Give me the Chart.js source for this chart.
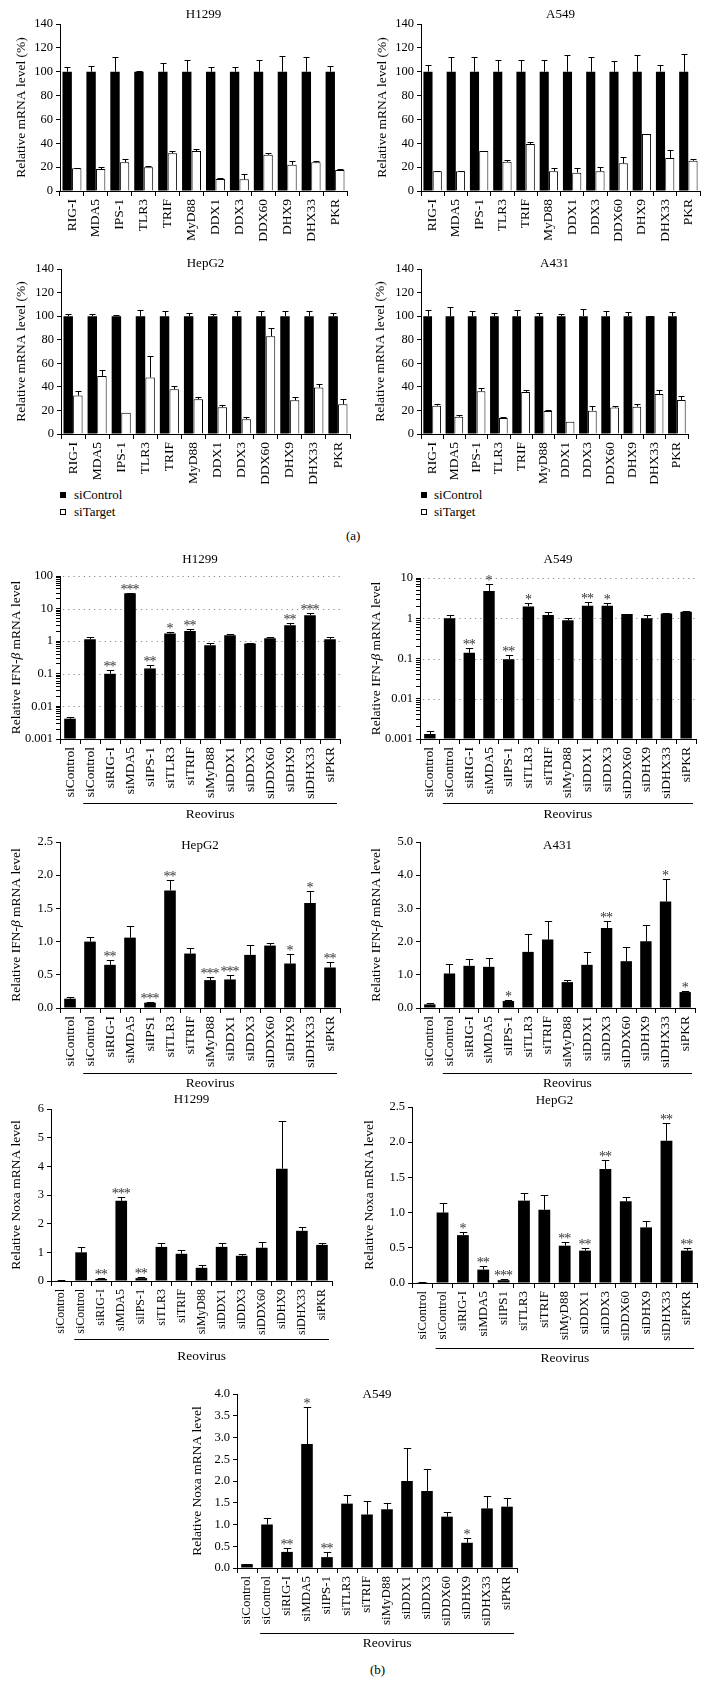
<!DOCTYPE html>
<html>
<head>
<meta charset="utf-8">
<script src="https://cdn.jsdelivr.net/npm/chart.js@4.4.1/dist/chart.umd.min.js"></script>
<style>
body{margin:0;background:#fff;width:706px;height:1684px;position:relative;overflow:hidden;font-family:"Liberation Serif","Times New Roman",serif;}
canvas{position:absolute;}
.txt{position:absolute;font-size:13px;line-height:16px;color:#000;white-space:nowrap;}
.sq{position:absolute;width:6px;height:6px;border:1px solid #000;box-sizing:border-box;}
</style>
</head>
<body>
<div class="sq" style="left:60px;top:492px;background:#000"></div><div class="txt" style="left:74px;top:487px">siControl</div>
<div class="sq" style="left:60px;top:509px;background:#fff"></div><div class="txt" style="left:74px;top:504px">siTarget</div>
<div class="sq" style="left:421px;top:492px;background:#000"></div><div class="txt" style="left:434px;top:487px">siControl</div>
<div class="sq" style="left:421px;top:509px;background:#fff"></div><div class="txt" style="left:434px;top:504px">siTarget</div>
<div class="txt" style="left:346px;top:528px">(a)</div>
<div class="txt" style="left:370px;top:1662px">(b)</div>
<script>
// ---- data (a): knockdown efficiency, % of siControl
const aLabels = ["RIG-I","MDA5","IPS-1","TLR3","TRIF","MyD88","DDX1","DDX3","DDX60","DHX9","DHX33","PKR"];
const ctrl100 = [100,100,100,100,100,100,100,100,100,100,100,100];

const h1299aCtrlErr = [4,5,12,1,7,10,4,4,10,13,12,5];
const h1299aTgt = [19,18.4,24,20,31.6,33.5,10,9.8,30.4,22,24,17.6];
const h1299aTgtErr = [0.5,1.6,3,1,2.2,1.5,0.5,4.2,1.6,3.4,1.4,0.8];

const a549aCtrlErr = [6,12,12,10,10,10,14,12.5,9,14,6,15];
const a549aTgt = [16.5,16.5,33.5,24.6,39.4,16.5,15.4,16.5,23.2,47.8,27.6,25.4];
const a549aTgtErr = [0.3,0.5,0.3,1.4,1.4,2.5,3.6,3.3,5.6,0.3,6.8,1.6];

const hepg2aCtrlErr = [2,1.7,0.6,5.4,4.6,3,2,4.6,4,4,4,3];
const hepg2aTgt = [32.6,49.3,18,47.9,38,29.5,22.7,12.5,83,28.6,39.4,25.2];
const hepg2aTgtErr = [4.2,4.7,0,18.4,3,1.5,2,2.2,7,3.1,3.4,4.6];

const a431aCtrlErr = [5.4,7.7,4,2.3,5.4,2.3,2,6.3,4.3,3.7,0.5,3.1];
const a431aTgt = [24,14.7,36.3,13.6,35.7,19.5,10.5,19.8,22.4,23.2,34,28.9];
const a431aTgtErr = [1.2,1.3,3.1,1.1,2,1.2,0,4.2,1.4,2.6,3.4,3.4];

// ---- data (b)
const bLabels = ["siControl","siControl","siRIG-I","siMDA5","siIPS-1","siTLR3","siTRIF","siMyD88","siDDX1","siDDX3","siDDX60","siDHX9","siDHX33","siPKR"];
const bLabelsIPS1 = ["siControl","siControl","siRIG-I","siMDA5","siIPS1","siTLR3","siTRIF","siMyD88","siDDX1","siDDX3","siDDX60","siDHX9","siDHX33","siPKR"];

const h1299Ifn = [0.0042,1.15,0.1,29.5,0.146,1.72,2.07,0.75,1.52,0.85,1.23,3.1,6.3,1.15];
const h1299IfnErr = [0.0006,0.2,0.03,1.5,0.044,0.26,0.26,0.16,0.11,0.03,0.07,0.45,1.1,0.15];
const h1299IfnSig = ["","","**","***","**","*","**","","","","","**","***",""];

const a549Ifn = [0.00133,1.0,0.138,4.77,0.096,1.97,1.2,0.89,2.04,2.04,1.27,1.0,1.32,1.45];
const a549IfnErr = [0.00022,0.2,0.042,2.23,0.029,0.37,0.25,0.11,0.52,0.36,0.03,0.22,0.05,0.1];
const a549IfnSig = ["","","**","*","**","*","","","**","*","","","",""];

const hepg2Ifn = [0.14,1.0,0.65,1.06,0.08,1.77,0.82,0.42,0.43,0.8,0.94,0.67,1.58,0.61];
const hepg2IfnErr = [0.02,0.07,0.08,0.18,0.01,0.16,0.08,0.05,0.06,0.15,0.04,0.14,0.18,0.09];
const hepg2IfnSig = ["","","**","","***","**","","***","***","","","*","*","**"];

const a431Ifn = [0.11,1.04,1.27,1.24,0.21,1.69,2.06,0.78,1.3,2.41,1.41,2.01,3.21,0.48];
const a431IfnErr = [0.05,0.3,0.22,0.28,0.02,0.53,0.55,0.05,0.4,0.21,0.43,0.5,0.69,0.03];
const a431IfnSig = ["","","","","*","","","","","**","","","*","*"];

const h1299Noxa = [0.02,1.0,0.07,2.8,0.1,1.19,0.95,0.46,1.19,0.88,1.16,3.92,1.75,1.26];
const h1299NoxaErr = [0.01,0.2,0.03,0.12,0.04,0.14,0.12,0.1,0.14,0.07,0.21,1.65,0.15,0.07];
const h1299NoxaSig = ["","","**","***","**","","","","","","","","",""];

const hepg2Noxa = [0.01,1.0,0.68,0.19,0.04,1.17,1.04,0.53,0.46,1.62,1.16,0.79,2.02,0.46];
const hepg2NoxaErr = [0.005,0.13,0.04,0.05,0.01,0.11,0.21,0.05,0.04,0.13,0.06,0.09,0.25,0.04];
const hepg2NoxaSig = ["","","*","**","***","","","**","**","**","","","**","**"];

const a549Noxa = [0.09,1.0,0.37,2.85,0.25,1.48,1.23,1.35,2.0,1.77,1.18,0.58,1.37,1.41];
const a549NoxaErr = [0.01,0.16,0.08,0.85,0.12,0.2,0.32,0.15,0.75,0.5,0.11,0.11,0.29,0.19];
const a549NoxaSig = ["","","**","*","**","","","","","","","*","",""];

Chart.defaults.font.family = '"Liberation Serif","Times New Roman",serif';
Chart.defaults.color = "#000";

const FONT = '"Liberation Serif","Times New Roman",serif';
const mrnaLab = [["Relative mRNA level (%)",0]];
const ifnLab = [["Relative IFN-",0],["\u03b2",1],[" mRNA level",0]];
const noxaLab = [["Relative Noxa mRNA level",0]];

const info = {};
const EXTRA = 26; // room under the tick labels so they are not clipped

function isDecade(v){ const l = Math.log10(v); return Math.abs(l - Math.round(l)) < 1e-6; }
function logTicks(min, max){
  const out = [];
  for (let e = Math.round(Math.log10(min)); e < Math.round(Math.log10(max)); e++) {
    for (let k = 1; k <= 9; k++) out.push(Number((k * Math.pow(10, e)).toPrecision(3)));
  }
  out.push(max);
  return out;
}

const decor = {
  id: "decor",
  beforeDatasetsDraw(chart){
    const p = info[chart.canvas.id];
    if (p.kind !== "log") return;
    const ctx = chart.ctx, a = chart.chartArea, y = chart.scales.y;
    ctx.save();
    ctx.strokeStyle = "#8a8a8a"; ctx.lineWidth = 1; ctx.setLineDash([1.2, 4]);
    logTicks(p.min, p.max).filter(isDecade).forEach(function(v){
      if (v <= p.min) return;
      const py = Math.round(y.getPixelForValue(v)) + 0.5;
      ctx.beginPath(); ctx.moveTo(a.left + 3, py); ctx.lineTo(a.right, py); ctx.stroke();
    });
    ctx.restore();
  },
  afterDatasetsDraw(chart){
    const p = info[chart.canvas.id];
    const ctx = chart.ctx, y = chart.scales.y;
    ctx.save();
    ctx.strokeStyle = "#000"; ctx.lineWidth = 1;
    p.sets.forEach(function(s, di){
      const meta = chart.getDatasetMeta(di);
      meta.data.forEach(function(bar, i){
        const e = s.err[i];
        if (!e) return;
        const top = Math.round(y.getPixelForValue(s.vals[i] + e)) + 0.5;
        const x = Math.round(bar.x) + 0.5;
        const cap = Math.max(3, bar.width * 0.32);
        ctx.beginPath();
        ctx.moveTo(x, bar.y); ctx.lineTo(x, top);
        ctx.moveTo(x - cap, top); ctx.lineTo(x + cap, top);
        ctx.stroke();
      });
    });
    if (p.sig) {
      const meta = chart.getDatasetMeta(0);
      ctx.fillStyle = "#333"; ctx.font = "14px " + FONT; ctx.textAlign = "center"; ctx.textBaseline = "alphabetic";
      p.sig.forEach(function(st, i){
        if (!st) return;
        const bar = meta.data[i];
        const top = y.getPixelForValue(p.sets[0].vals[i] + p.sets[0].err[i]);
        for (let k = 0; k < st.length; k++) {
          ctx.fillText("*", bar.x + (k - (st.length - 1) / 2) * 6, top + 1);
        }
      });
    }
    ctx.restore();
  },
  afterDraw(chart){
    const p = info[chart.canvas.id];
    const ctx = chart.ctx, a = chart.chartArea;
    ctx.save();
    ctx.fillStyle = "#000";
    ctx.font = "13px " + FONT; ctx.textAlign = "center"; ctx.textBaseline = "middle";
    ctx.fillText(p.title, (a.left + a.right) / 2, p.titleY - p.y0);
    // y axis title
    ctx.save();
    ctx.translate(p.ylabX - p.x0, (p.top + p.bottom) / 2 - p.y0);
    ctx.rotate(-Math.PI / 2);
    ctx.textAlign = "left";
    let total = 0;
    p.yLab.forEach(function(part){ ctx.font = (part[1] ? "italic " : "") + "13.5px " + FONT; total += ctx.measureText(part[0]).width; });
    let cx = -total / 2;
    p.yLab.forEach(function(part){
      ctx.font = (part[1] ? "italic " : "") + "13.5px " + FONT;
      ctx.fillText(part[0], cx, 0);
      cx += ctx.measureText(part[0]).width;
    });
    ctx.restore();
    if (p.reoLineY) {
      const meta = chart.getDatasetMeta(0);
      const b1 = meta.data[1];
      const xs = b1.x - b1.width / 2 - 1, xe = p.right - p.x0 - 3;
      const ly = p.reoLineY - p.y0 + 0.5;
      ctx.strokeStyle = "#000"; ctx.lineWidth = 1;
      ctx.beginPath(); ctx.moveTo(xs, ly); ctx.lineTo(xe, ly); ctx.stroke();
      ctx.font = "13.5px " + FONT; ctx.textAlign = "center";
      ctx.fillText("Reovirus", (xs + xe) / 2, p.reoTextY - p.y0);
    }
    ctx.restore();
  }
};

function makeChart(p){
  const x0 = p.ylabX - 12;
  const y0 = Math.min(p.titleY, p.top) - 12;
  const x1 = p.right + 10;
  const y1 = Math.max(p.labBottom, p.reoTextY || 0) + EXTRA + 6;
  const cv = document.createElement("canvas");
  cv.id = p.id; cv.width = x1 - x0; cv.height = y1 - y0;
  cv.style.left = x0 + "px"; cv.style.top = y0 + "px";
  document.body.appendChild(cv);
  p.x0 = x0; p.y0 = y0;
  info[p.id] = p;

  let yScale;
  if (p.kind === "log") {
    yScale = {
      type: "logarithmic", min: p.min, max: p.max,
      afterBuildTicks: function(s){ s.ticks = logTicks(p.min, p.max).map(function(v){ return {value: v}; }); },
      ticks: {autoSkip: false, padding: 3, font: {size: 12.5}, color: "#000",
        callback: function(v){ return isDecade(v) ? String(v) : ""; }}
    };
  } else {
    yScale = {
      type: "linear", min: 0, max: p.max,
      ticks: {stepSize: p.step, padding: 3, font: {size: 12.5}, color: "#000",
        callback: function(v){ return Number(v).toFixed(p.dec); }}
    };
  }
  yScale.grid = {drawOnChartArea: false, drawTicks: true, tickLength: 4, color: "#000"};
  yScale.border = {display: true, color: "#000", width: 1};
  yScale.afterFit = function(s){ s.width = p.axisX - x0; };

  new Chart(cv, {
    type: "bar",
    data: {
      labels: p.labels,
      datasets: p.sets.map(function(s){
        return {
          data: s.vals,
          backgroundColor: s.fill,
          borderColor: "#000",
          borderWidth: s.fill === "#fff" ? 1 : 0,
          categoryPercentage: p.catPct,
          barPercentage: p.barPct,
          base: p.kind === "log" ? p.min : undefined
        };
      })
    },
    options: {
      responsive: false,
      animation: false,
      events: [],
      layout: {padding: {left: 0, top: p.top - y0, right: x1 - p.right, bottom: y1 - p.labBottom - EXTRA}},
      plugins: {legend: {display: false}, tooltip: {enabled: false}},
      scales: {
        x: {
          grid: {display: true, drawOnChartArea: false, drawTicks: true, tickLength: 5, color: "#000", offset: true},
          border: {display: true, color: "#000", width: 1},
          ticks: {minRotation: 90, maxRotation: 90, autoSkip: false, padding: 3, font: {size: p.xFont}, color: "#000"},
          afterFit: function(s){ s.height = p.labBottom - p.bottom + EXTRA; }
        },
        y: yScale
      }
    },
    plugins: [decor]
  });
}

function aSets(ctrlErr, tgt, tgtErr){
  return [{vals: ctrl100, err: ctrlErr, fill: "#000"}, {vals: tgt, err: tgtErr, fill: "#fff"}];
}
function bSets(vals, err){ return [{vals: vals, err: err, fill: "#000"}]; }

const aBase = {kind: "lin", max: 140, step: 20, dec: 0, labels: aLabels, yLab: mrnaLab, catPct: 0.8, barPct: 0.98, xFont: 13.5};
const bBase = {catPct: 0.58, barPct: 1, xFont: 13.5};

const panels = [
  Object.assign({}, aBase, {id: "a1", title: "H1299", titleY: 15, ylabX: 21, axisX: 60, top: 24, bottom: 191, right: 347, labBottom: 242, sets: aSets(h1299aCtrlErr, h1299aTgt, h1299aTgtErr)}),
  Object.assign({}, aBase, {id: "a2", title: "A549", titleY: 15, ylabX: 382, axisX: 421, top: 24, bottom: 191, right: 700, labBottom: 242, sets: aSets(a549aCtrlErr, a549aTgt, a549aTgtErr)}),
  Object.assign({}, aBase, {id: "a3", title: "HepG2", titleY: 264, ylabX: 21, axisX: 61, top: 269, bottom: 434, right: 350, labBottom: 480, sets: aSets(hepg2aCtrlErr, hepg2aTgt, hepg2aTgtErr)}),
  Object.assign({}, aBase, {id: "a4", title: "A431", titleY: 264, ylabX: 380, axisX: 421, top: 269, bottom: 434, right: 688, labBottom: 480, sets: aSets(a431aCtrlErr, a431aTgt, a431aTgtErr)}),
  Object.assign({}, bBase, {id: "b1", title: "H1299", titleY: 560, ylabX: 16, axisX: 60, top: 576, bottom: 739, right: 340, labBottom: 799, reoLineY: 803, reoTextY: 814, kind: "log", min: 0.001, max: 100, labels: bLabels, yLab: ifnLab, sets: bSets(h1299Ifn, h1299IfnErr), sig: h1299IfnSig}),
  Object.assign({}, bBase, {id: "b2", title: "A549", titleY: 560, ylabX: 376, axisX: 420, top: 578, bottom: 739, right: 696, labBottom: 799, reoLineY: 803, reoTextY: 814, kind: "log", min: 0.001, max: 10, labels: bLabels, yLab: ifnLab, sets: bSets(a549Ifn, a549IfnErr), sig: a549IfnSig}),
  Object.assign({}, bBase, {id: "b3", title: "HepG2", titleY: 846, ylabX: 16, axisX: 60, top: 842, bottom: 1008, right: 340, labBottom: 1068, reoLineY: 1073, reoTextY: 1083, kind: "lin", max: 2.5, step: 0.5, dec: 1, labels: bLabelsIPS1, yLab: ifnLab, sets: bSets(hepg2Ifn, hepg2IfnErr), sig: hepg2IfnSig}),
  Object.assign({}, bBase, {id: "b4", title: "A431", titleY: 846, ylabX: 376, axisX: 420, top: 842, bottom: 1008, right: 695, labBottom: 1068, reoLineY: 1073, reoTextY: 1083, kind: "lin", max: 5, step: 1, dec: 1, labels: bLabels, yLab: ifnLab, sets: bSets(a431Ifn, a431IfnErr), sig: a431IfnSig}),
  Object.assign({}, bBase, {id: "b5", title: "H1299", titleY: 1100, ylabX: 16, axisX: 51, top: 1109, bottom: 1281, right: 332, labBottom: 1334, reoLineY: 1339, reoTextY: 1356, kind: "lin", max: 6, step: 1, dec: 0, labels: bLabels, yLab: noxaLab, xFont: 12, sets: bSets(h1299Noxa, h1299NoxaErr), sig: h1299NoxaSig}),
  Object.assign({}, bBase, {id: "b6", title: "HepG2", titleY: 1101, ylabX: 369, axisX: 412, top: 1107, bottom: 1283, right: 697, labBottom: 1342, reoLineY: 1348, reoTextY: 1358, kind: "lin", max: 2.5, step: 0.5, dec: 1, labels: bLabelsIPS1, yLab: noxaLab, xFont: 13, sets: bSets(hepg2Noxa, hepg2NoxaErr), sig: hepg2NoxaSig}),
  Object.assign({}, bBase, {id: "b7", title: "A549", titleY: 1395, ylabX: 197, axisX: 237, top: 1394, bottom: 1568, right: 517, labBottom: 1628, reoLineY: 1633, reoTextY: 1643, kind: "lin", max: 4, step: 0.5, dec: 1, labels: bLabels, yLab: noxaLab, xFont: 13, sets: bSets(a549Noxa, a549NoxaErr), sig: a549NoxaSig})
];

panels.forEach(makeChart);
</script>
</body>
</html>
